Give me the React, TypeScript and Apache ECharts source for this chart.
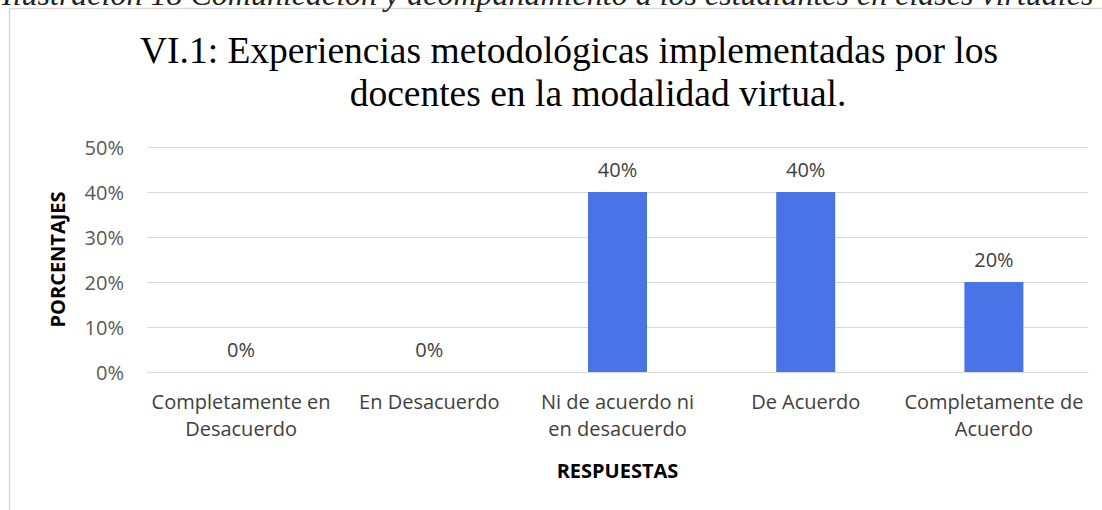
import React, { useEffect, useRef } from "react";
import * as echarts from "echarts";

const captionText = "Ilustración 18 Comunicación y acompañamiento a los estudiantes en clases virtuales";
const titleLine1 = "VI.1: Experiencias metodológicas implementadas por los";
const titleLine2 = "docentes en la modalidad virtual.";
const categories = [
  "Completamente en\nDesacuerdo",
  "En Desacuerdo",
  "Ni de acuerdo ni\nen desacuerdo",
  "De Acuerdo",
  "Completamente de\nAcuerdo",
];
const values = [0, 0, 40, 40, 20];
const yTicks = [0, 10, 20, 30, 40, 50];
const yAxisTitle = "PORCENTAJES";
const xAxisTitle = "RESPUESTAS";

const SANS = "'Open Sans', Lato, 'Liberation Sans', sans-serif";
const SERIF = "'Liberation Serif', 'DejaVu Serif', serif";

export default function App() {
  const ref = useRef<HTMLDivElement>(null);
  useEffect(() => {
    if (!ref.current) return;
    const chart = echarts.init(ref.current, undefined, { renderer: "svg" });
    chart.setOption({
      animation: false,
      backgroundColor: "#ffffff",
      graphic: [
        {
          type: "rect",
          shape: { x: 9.5, y: 8.5, width: 1200, height: 600 },
          style: { fill: "none", stroke: "#d9d9d9", lineWidth: 1.5 },
          silent: true,
        },
        {
          type: "text",
          x: 2,
          y: 10,
          style: {
            text: captionText,
            font: "italic 32px " + SERIF,
            fill: "#222222",
            verticalAlign: "bottom",
            align: "left",
          },
        },
        {
          type: "text",
          x: 569,
          y: 50,
          style: {
            text: titleLine1,
            font: "37.5px " + SERIF,
            fill: "#000000",
            align: "center",
            verticalAlign: "middle",
          },
        },
        {
          type: "text",
          x: 598,
          y: 93,
          style: {
            text: titleLine2,
            font: "37.5px " + SERIF,
            fill: "#000000",
            align: "center",
            verticalAlign: "middle",
          },
        },
      ],
      grid: { left: 147, right: 14, top: 147, bottom: 138, containLabel: false },
      xAxis: {
        type: "category",
        data: categories,
        axisLine: { show: true, lineStyle: { color: "#d9d9d9", width: 1 } },
        axisTick: { show: false },
        axisLabel: {
          color: "#404040",
          fontFamily: SANS,
          fontSize: 20,
          lineHeight: 27,
          margin: 16,
          interval: 0,
        },
        name: xAxisTitle,
        nameLocation: "middle",
        nameGap: 88,
        nameTextStyle: { color: "#000000", fontFamily: SANS, fontSize: 20, fontWeight: "bold" },
      },
      yAxis: {
        type: "value",
        min: yTicks[0],
        max: yTicks[yTicks.length - 1],
        interval: 10,
        axisLine: { show: false },
        axisTick: { show: false },
        splitLine: { lineStyle: { color: "#d9d9d9", width: 1 } },
        axisLabel: {
          color: "#595959",
          fontFamily: SANS,
          fontSize: 20,
          margin: 23,
          formatter: (v: number) => v + "%",
        },
        name: yAxisTitle,
        nameLocation: "middle",
        nameGap: 80,
        nameTextStyle: { color: "#000000", fontFamily: SANS, fontSize: 20, fontWeight: "bold" },
      },
      series: [
        {
          type: "bar",
          data: values,
          barWidth: 59,
          itemStyle: { color: "#4874E8" },
          label: {
            show: true,
            position: "top",
            distance: 13,
            color: "#404040",
            fontFamily: SANS,
            fontSize: 20,
            formatter: (p: any) => p.value + "%",
          },
        },
      ],
    });
    return () => chart.dispose();
  }, []);
  return (
    <div
      ref={ref}
      style={{ position: "fixed", left: 0, top: 0, width: 1102, height: 510, background: "#fff" }}
    />
  );
}
